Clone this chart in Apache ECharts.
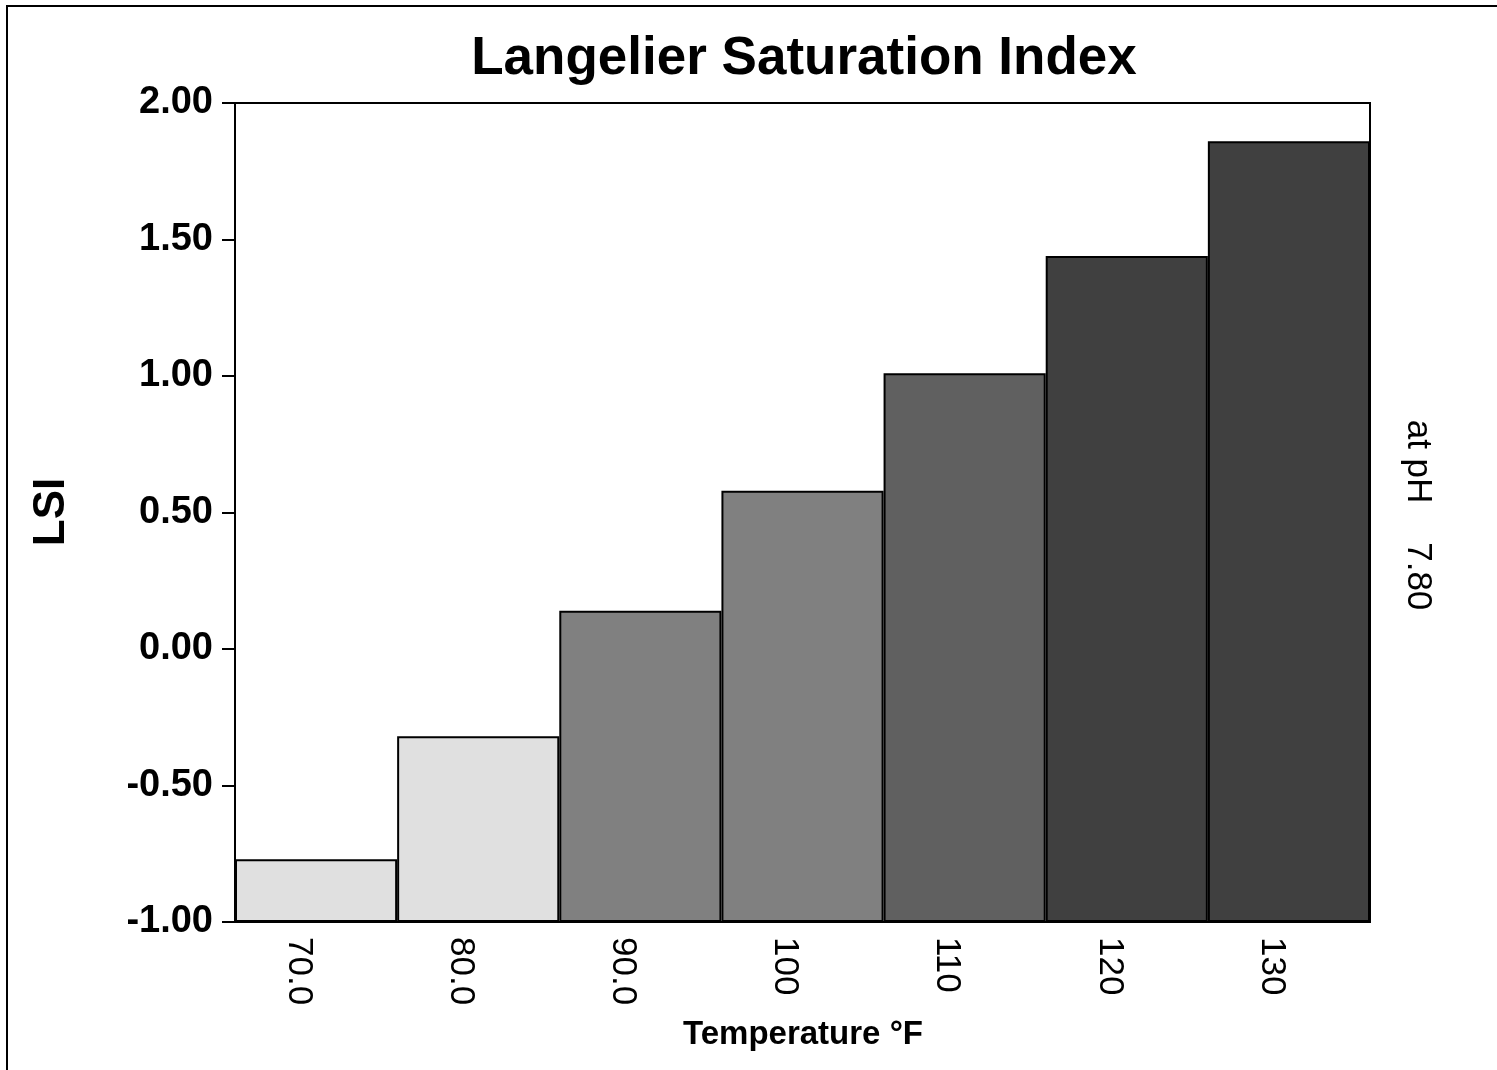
<!DOCTYPE html>
<html>
<head>
<meta charset="utf-8">
<title>Langelier Saturation Index</title>
<script src="https://cdn.jsdelivr.net/npm/echarts@6/dist/echarts.min.js"></script>
<style>
  html, body { margin: 0; padding: 0; background: #fff; }
  #main { width: 1497px; height: 1070px; }
</style>
</head>
<body>
<div id="main"></div>
<script>
// data
var temps = ['70.0', '80.0', '90.0', '100', '110', '120', '130'];
var lsi = [-0.77, -0.32, 0.14, 0.58, 1.01, 1.44, 1.86];
var yTicks = [-1, -0.5, 0, 0.5, 1, 1.5, 2];
var phText = 'at pH    7.80';

// grey shades of the bars, light to dark
var barColors = ['#e0e0e0', '#e0e0e0', '#808080', '#808080', '#606060', '#404040', '#404040'];

var font = 'Liberation Sans, Arial, sans-serif';
var chart = echarts.init(document.getElementById('main'));

chart.setOption({
  backgroundColor: '#fff',
  animation: false,
  grid: {
    left: 235,
    right: 127,
    top: 103,
    bottom: 148,
    show: true,
    borderColor: '#000',
    borderWidth: 2,
    backgroundColor: 'transparent'
  },
  xAxis: {
    type: 'category',
    data: temps,
    boundaryGap: true,
    axisLine: { onZero: false, lineStyle: { color: '#000', width: 2 } },
    axisTick: { show: false },
    axisLabel: {
      rotate: -90,
      margin: 15,
      verticalAlign: 'top',
      color: '#000',
      fontFamily: font,
      fontSize: 35
    }
  },
  yAxis: {
    type: 'value',
    min: yTicks[0],
    max: yTicks[yTicks.length - 1],
    interval: 0.5,
    startValue: yTicks[0],
    splitLine: { show: false },
    axisLine: { show: true, lineStyle: { color: '#000', width: 2 } },
    axisTick: { show: true, length: 13, lineStyle: { color: '#000', width: 2 } },
    axisLabel: {
      margin: 22,
      color: '#000',
      fontFamily: font,
      fontWeight: 'bold',
      fontSize: 38,
      formatter: function (v) { return v.toFixed(2); }
    }
  },
  series: [{
    type: 'bar',
    barCategoryGap: '0%',
    data: lsi.map(function (v, i) {
      return { value: v, itemStyle: { color: barColors[i] } };
    }),
    itemStyle: { borderColor: '#000', borderWidth: 2 }
  }],
  graphic: [
    {
      type: 'rect',
      shape: { x: 7, y: 6, width: 3000, height: 3000 },
      style: { fill: 'none', stroke: '#000', lineWidth: 2 },
      silent: true
    },
    {
      type: 'text',
      x: 804, y: 59,
      style: {
        text: 'Langelier Saturation Index',
        font: 'bold 53px ' + font,
        fill: '#000',
        textAlign: 'center',
        textVerticalAlign: 'middle'
      }
    },
    {
      type: 'text',
      x: 803, y: 1035,
      style: {
        text: 'Temperature °F',
        font: 'bold 33px ' + font,
        fill: '#000',
        textAlign: 'center',
        textVerticalAlign: 'middle'
      }
    },
    {
      type: 'text',
      x: 52, y: 512,
      rotation: Math.PI / 2,
      style: {
        text: 'LSI',
        font: 'bold 44px ' + font,
        fill: '#000',
        textAlign: 'center',
        textVerticalAlign: 'middle'
      }
    },
    {
      type: 'text',
      x: 1418, y: 515,
      rotation: -Math.PI / 2,
      style: {
        text: phText,
        font: '35px ' + font,
        fill: '#000',
        textAlign: 'center',
        textVerticalAlign: 'middle'
      }
    }
  ]
});
</script>
</body>
</html>
